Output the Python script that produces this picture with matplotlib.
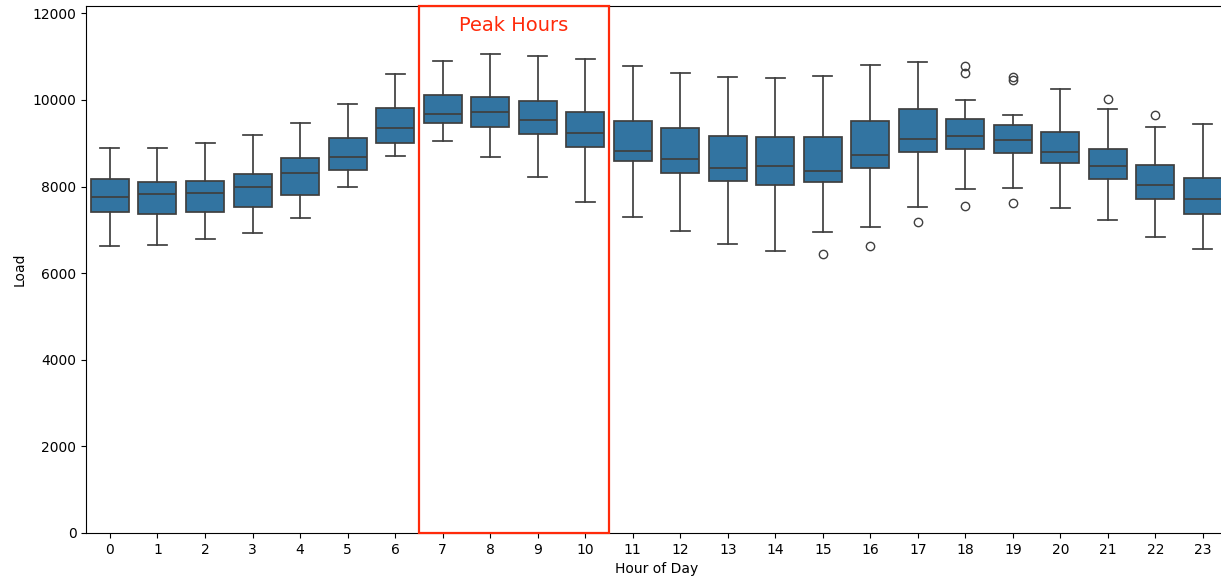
import matplotlib.pyplot as plt
from matplotlib.patches import Rectangle

hours = list(range(24))
whis_lo = [6635, 6659, 6783, 6928, 7267, 7991, 8715, 9046, 8691, 8229, 7651, 7290,
           6975, 6682, 6520, 6951, 7067, 7529, 7937, 7961, 7506, 7221, 6829, 6566]
q1 = [7413, 7360, 7413, 7529, 7799, 8391, 9000, 9461, 9384, 9215, 8907, 8584,
      8322, 8129, 8037, 8106, 8422, 8807, 8876, 8784, 8545, 8183, 7721, 7367]
median = [7767, 7822, 7845, 7990, 8306, 8691, 9346, 9669, 9723, 9531, 9246, 8830,
          8637, 8422, 8476, 8360, 8737, 9092, 9169, 9069, 8807, 8476, 8037, 7721]
q3 = [8176, 8106, 8129, 8298, 8660, 9122, 9815, 10108, 10062, 9969, 9723, 9508,
      9361, 9169, 9145, 9145, 9508, 9792, 9554, 9430, 9261, 8876, 8491, 8199]
whis_hi = [8885, 8885, 9000, 9192, 9476, 9915, 10593, 10901, 11055, 11024, 10955, 10778,
           10616, 10539, 10516, 10562, 10808, 10878, 9992, 9654, 10254, 9800, 9369, 9438]
outliers = {15: [6443], 16: [6635], 17: [7175], 18: [10785, 10616, 7552],
            19: [10524, 10455, 7613], 21: [10015], 22: [9654]}

peak_start, peak_end = 7, 10

stats = []
for h in hours:
    stats.append({"med": median[h], "q1": q1[h], "q3": q3[h],
                  "whislo": whis_lo[h], "whishi": whis_hi[h],
                  "fliers": outliers.get(h, [])})

fig = plt.figure(figsize=(12.21, 5.82), dpi=100)
ax = fig.add_axes([0.0706, 0.0842, 0.9341, 0.9055])

line_c = "#3f3f3f"
ax.bxp(stats, positions=hours, widths=0.8, patch_artist=True,
       boxprops=dict(facecolor="#3274a1", edgecolor=line_c, linewidth=1.25),
       medianprops=dict(color=line_c, linewidth=1.25),
       whiskerprops=dict(color=line_c, linewidth=1.25),
       capprops=dict(color=line_c, linewidth=1.25),
       capwidths=0.4,
       flierprops=dict(marker="o", markerfacecolor="none", markeredgecolor=line_c,
                       markersize=6, markeredgewidth=1.0))

ax.set_xlim(-0.5, 23.5)
ax.set_ylim(0, 12170)
ax.set_xticks(hours)
ax.set_xticklabels([str(h) for h in hours])
ax.set_xlabel("Hour of Day")
ax.set_ylabel("Load")

# highlight peak window
rect = Rectangle((peak_start - 0.5, 0), peak_end - peak_start + 1, 12170,
                 fill=False, edgecolor="#ff2a0a", linewidth=1.6, zorder=5, clip_on=False)
ax.add_patch(rect)
ax.text((peak_start + peak_end) / 2, 11730, "Peak Hours", color="#ff2a0a",
        fontsize=14, ha="center", va="center")

fig.savefig("out.png", dpi=100)
